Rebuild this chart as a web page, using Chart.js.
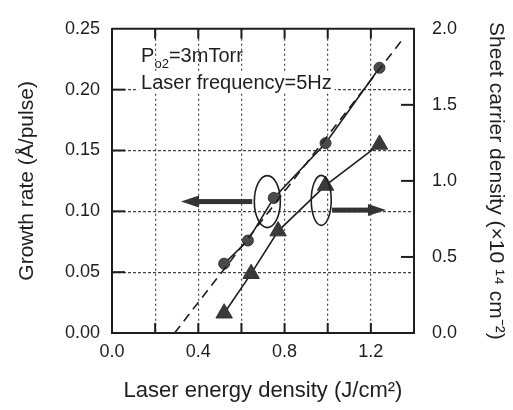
<!DOCTYPE html>
<html>
<head>
<meta charset="utf-8">
<script src="https://cdn.jsdelivr.net/npm/chart.js@4.4.0/dist/chart.umd.min.js"></script>
<style>
  html, body { margin: 0; padding: 0; background: #fff; }
  #wrap { width: 513px; height: 410px; }
</style>
</head>
<body>
<div id="wrap"><canvas id="chart" width="513" height="410"></canvas></div>
<script>
// growth rate (left axis), circles
const energyGrowth = [0.52, 0.63, 0.75, 0.99, 1.24];
const growthRate = [0.057, 0.076, 0.111, 0.156, 0.218];

// sheet carrier density (right axis), triangles
const energyCarrier = [0.52, 0.645, 0.77, 0.99, 1.24];
const carrierDensity = [0.13, 0.39, 0.67, 0.97, 1.24];

// dashed linear fit of growth rate
const fitEnergy = [0.29, 1.35];
const fitRate = [0.0, 0.242];

const xTicks = [0.0, 0.4, 0.8, 1.2];
const noteLines = ["=3mTorr", "Laser frequency=5Hz"];

const ink = "#1e1e1e";
const fontFamily = "'Liberation Sans', Arial, sans-serif";

const toPoints = (xs, ys) => xs.map((x, i) => ({ x: x, y: ys[i] }));

// inner tick marks, top border, annotations (ellipses + arrows) and the P_O2 note
const decorations = {
    id: "decorations",
    afterDraw(chart) {
        const ctx = chart.ctx;
        const xs = chart.scales.x, ys = chart.scales.y, y2 = chart.scales.y2;
        const area = chart.chartArea;
        ctx.save();
        ctx.setLineDash([]);
        ctx.strokeStyle = ink;
        ctx.lineWidth = 2;

        // top border
        ctx.beginPath();
        ctx.moveTo(area.left, area.top);
        ctx.lineTo(area.right, area.top);
        ctx.stroke();

        // x ticks (bottom + top, inside)
        xs.ticks.forEach(t => {
            const px = xs.getPixelForValue(t.value);
            if (px <= area.left + 1 || px >= area.right - 1) return;
            ctx.beginPath();
            ctx.moveTo(px, area.bottom); ctx.lineTo(px, area.bottom - 10);
            ctx.moveTo(px, area.top); ctx.lineTo(px, area.top + 10);
            ctx.stroke();
        });
        // left ticks
        ys.ticks.forEach(t => {
            const py = ys.getPixelForValue(t.value);
            if (py <= area.top + 1 || py >= area.bottom - 1) return;
            ctx.beginPath();
            ctx.moveTo(area.left, py); ctx.lineTo(area.left + 13, py);
            ctx.stroke();
        });
        // right ticks
        y2.ticks.forEach(t => {
            const py = y2.getPixelForValue(t.value);
            if (py <= area.top + 1 || py >= area.bottom - 1) return;
            ctx.beginPath();
            ctx.moveTo(area.right, py); ctx.lineTo(area.right - 13, py);
            ctx.stroke();
        });

        // ellipses
        ctx.lineWidth = 1.6;
        ctx.beginPath();
        ctx.ellipse(xs.getPixelForValue(0.72), ys.getPixelForValue(0.108), 13, 26, 0, 0, Math.PI * 2);
        ctx.stroke();
        ctx.beginPath();
        ctx.ellipse(xs.getPixelForValue(0.97), ys.getPixelForValue(0.109), 10, 25, 0, 0, Math.PI * 2);
        ctx.stroke();

        // arrows
        const arrow = (x0, x1, yv) => {
            const a = xs.getPixelForValue(x0), b = xs.getPixelForValue(x1), py = ys.getPixelForValue(yv);
            const dir = Math.sign(b - a);
            ctx.fillStyle = "#333";
            ctx.fillRect(Math.min(a, b - dir * 14), py - 2.5, Math.abs(b - dir * 14 - a), 5);
            ctx.beginPath();
            ctx.moveTo(b, py);
            ctx.lineTo(b - dir * 18, py - 6);
            ctx.lineTo(b - dir * 18, py + 6);
            ctx.closePath();
            ctx.fill();
        };
        arrow(0.65, 0.32, 0.108);
        arrow(1.02, 1.27, 0.101);

        // note text
        ctx.fillStyle = ink;
        ctx.textBaseline = "alphabetic";
        ctx.textAlign = "left";
        ctx.font = "20px " + fontFamily;
        const nx = xs.getPixelForValue(0.135);
        ctx.fillText("P", nx, 62);
        const pw = ctx.measureText("P").width;
        ctx.font = "13px " + fontFamily;
        ctx.fillText("o2", nx + pw, 68);
        const sw = ctx.measureText("o2").width;
        ctx.font = "20px " + fontFamily;
        ctx.fillText(noteLines[0], nx + pw + sw, 62);
        const lw = ctx.measureText(noteLines[1]).width;
        ctx.fillStyle = "#fff";
        ctx.fillRect(nx - 3, 73, lw + 6, 20);
        ctx.fillStyle = ink;
        ctx.fillText(noteLines[1], nx, 89);
        ctx.restore();
    }
};

const gridColor = (c) => (c.tick && (c.index === 0 || c.index === c.chart.scales[c.scale.id].ticks.length - 1)) ? "rgba(0,0,0,0)" : "#444";

new Chart(document.getElementById("chart"), {
    type: "scatter",
    data: {
        datasets: [
            {
                type: "line",
                data: toPoints(fitEnergy, fitRate),
                yAxisID: "y",
                borderColor: ink,
                borderWidth: 1.6,
                borderDash: [9, 6],
                pointRadius: 0,
                fill: false
            },
            {
                type: "line",
                data: toPoints(energyGrowth, growthRate),
                yAxisID: "y",
                borderColor: ink,
                borderWidth: 1.6,
                pointStyle: "circle",
                pointRadius: 5.5,
                pointBackgroundColor: "#4a4a4a",
                pointBorderColor: "#333",
                pointBorderWidth: 1,
                fill: false
            },
            {
                type: "line",
                data: toPoints(energyCarrier, carrierDensity),
                yAxisID: "y2",
                borderColor: ink,
                borderWidth: 1.6,
                pointStyle: "triangle",
                pointRadius: 9.5,
                pointBackgroundColor: "#3a3a3a",
                pointBorderColor: "#333",
                pointBorderWidth: 1,
                fill: false
            }
        ]
    },
    options: {
        responsive: false,
        animation: false,
        layout: { padding: { top: 20, left: 0, right: 0, bottom: 0 } },
        plugins: { legend: { display: false }, tooltip: { enabled: false } },
        scales: {
            x: {
                type: "linear",
                min: 0, max: 1.4,
                afterFit: s => { s.height = 77; },
                ticks: {
                    stepSize: 0.2,
                    padding: 8,
                    color: ink,
                    font: { size: 18, family: fontFamily },
                    callback: (v) => {
                        const hit = xTicks.find(t => Math.abs(t - v) < 1e-6);
                        return hit === undefined ? "" : hit.toFixed(1);
                    }
                },
                grid: { drawTicks: false, color: gridColor, lineWidth: 1.2 },
                border: { display: true, color: ink, width: 2, dash: [2, 3] },
                title: {
                    display: true,
                    text: "Laser energy density (J/cm²)",
                    color: ink,
                    font: { size: 22, family: fontFamily },
                    padding: { top: 0, bottom: 6 }
                }
            },
            y: {
                type: "linear",
                position: "left",
                min: 0, max: 0.25,
                afterFit: s => { s.width = 112; },
                ticks: {
                    stepSize: 0.05,
                    padding: 12,
                    color: ink,
                    font: { size: 18, family: fontFamily },
                    callback: v => v.toFixed(2)
                },
                grid: { drawTicks: false, color: gridColor, lineWidth: 1.2 },
                border: { display: true, color: ink, width: 2, dash: [3, 2] },
                title: {
                    display: true,
                    text: "Growth rate (Å/pulse)",
                    color: ink,
                    font: { size: 21, family: fontFamily },
                    padding: { top: 15, bottom: 0 }
                }
            },
            y2: {
                type: "linear",
                position: "right",
                min: 0, max: 2.0,
                afterFit: s => { s.width = 99; },
                ticks: {
                    stepSize: 0.5,
                    padding: 18,
                    color: ink,
                    font: { size: 18, family: fontFamily },
                    callback: v => v.toFixed(1)
                },
                grid: { drawOnChartArea: false, drawTicks: false },
                border: { display: true, color: ink, width: 2 },
                title: {
                    display: true,
                    text: "Sheet carrier density (×10 ¹⁴ cm⁻²)",
                    color: ink,
                    font: { size: 21, family: fontFamily },
                    padding: { top: 5, bottom: 0 }
                }
            }
        }
    },
    plugins: [decorations]
});
</script>
</body>
</html>
